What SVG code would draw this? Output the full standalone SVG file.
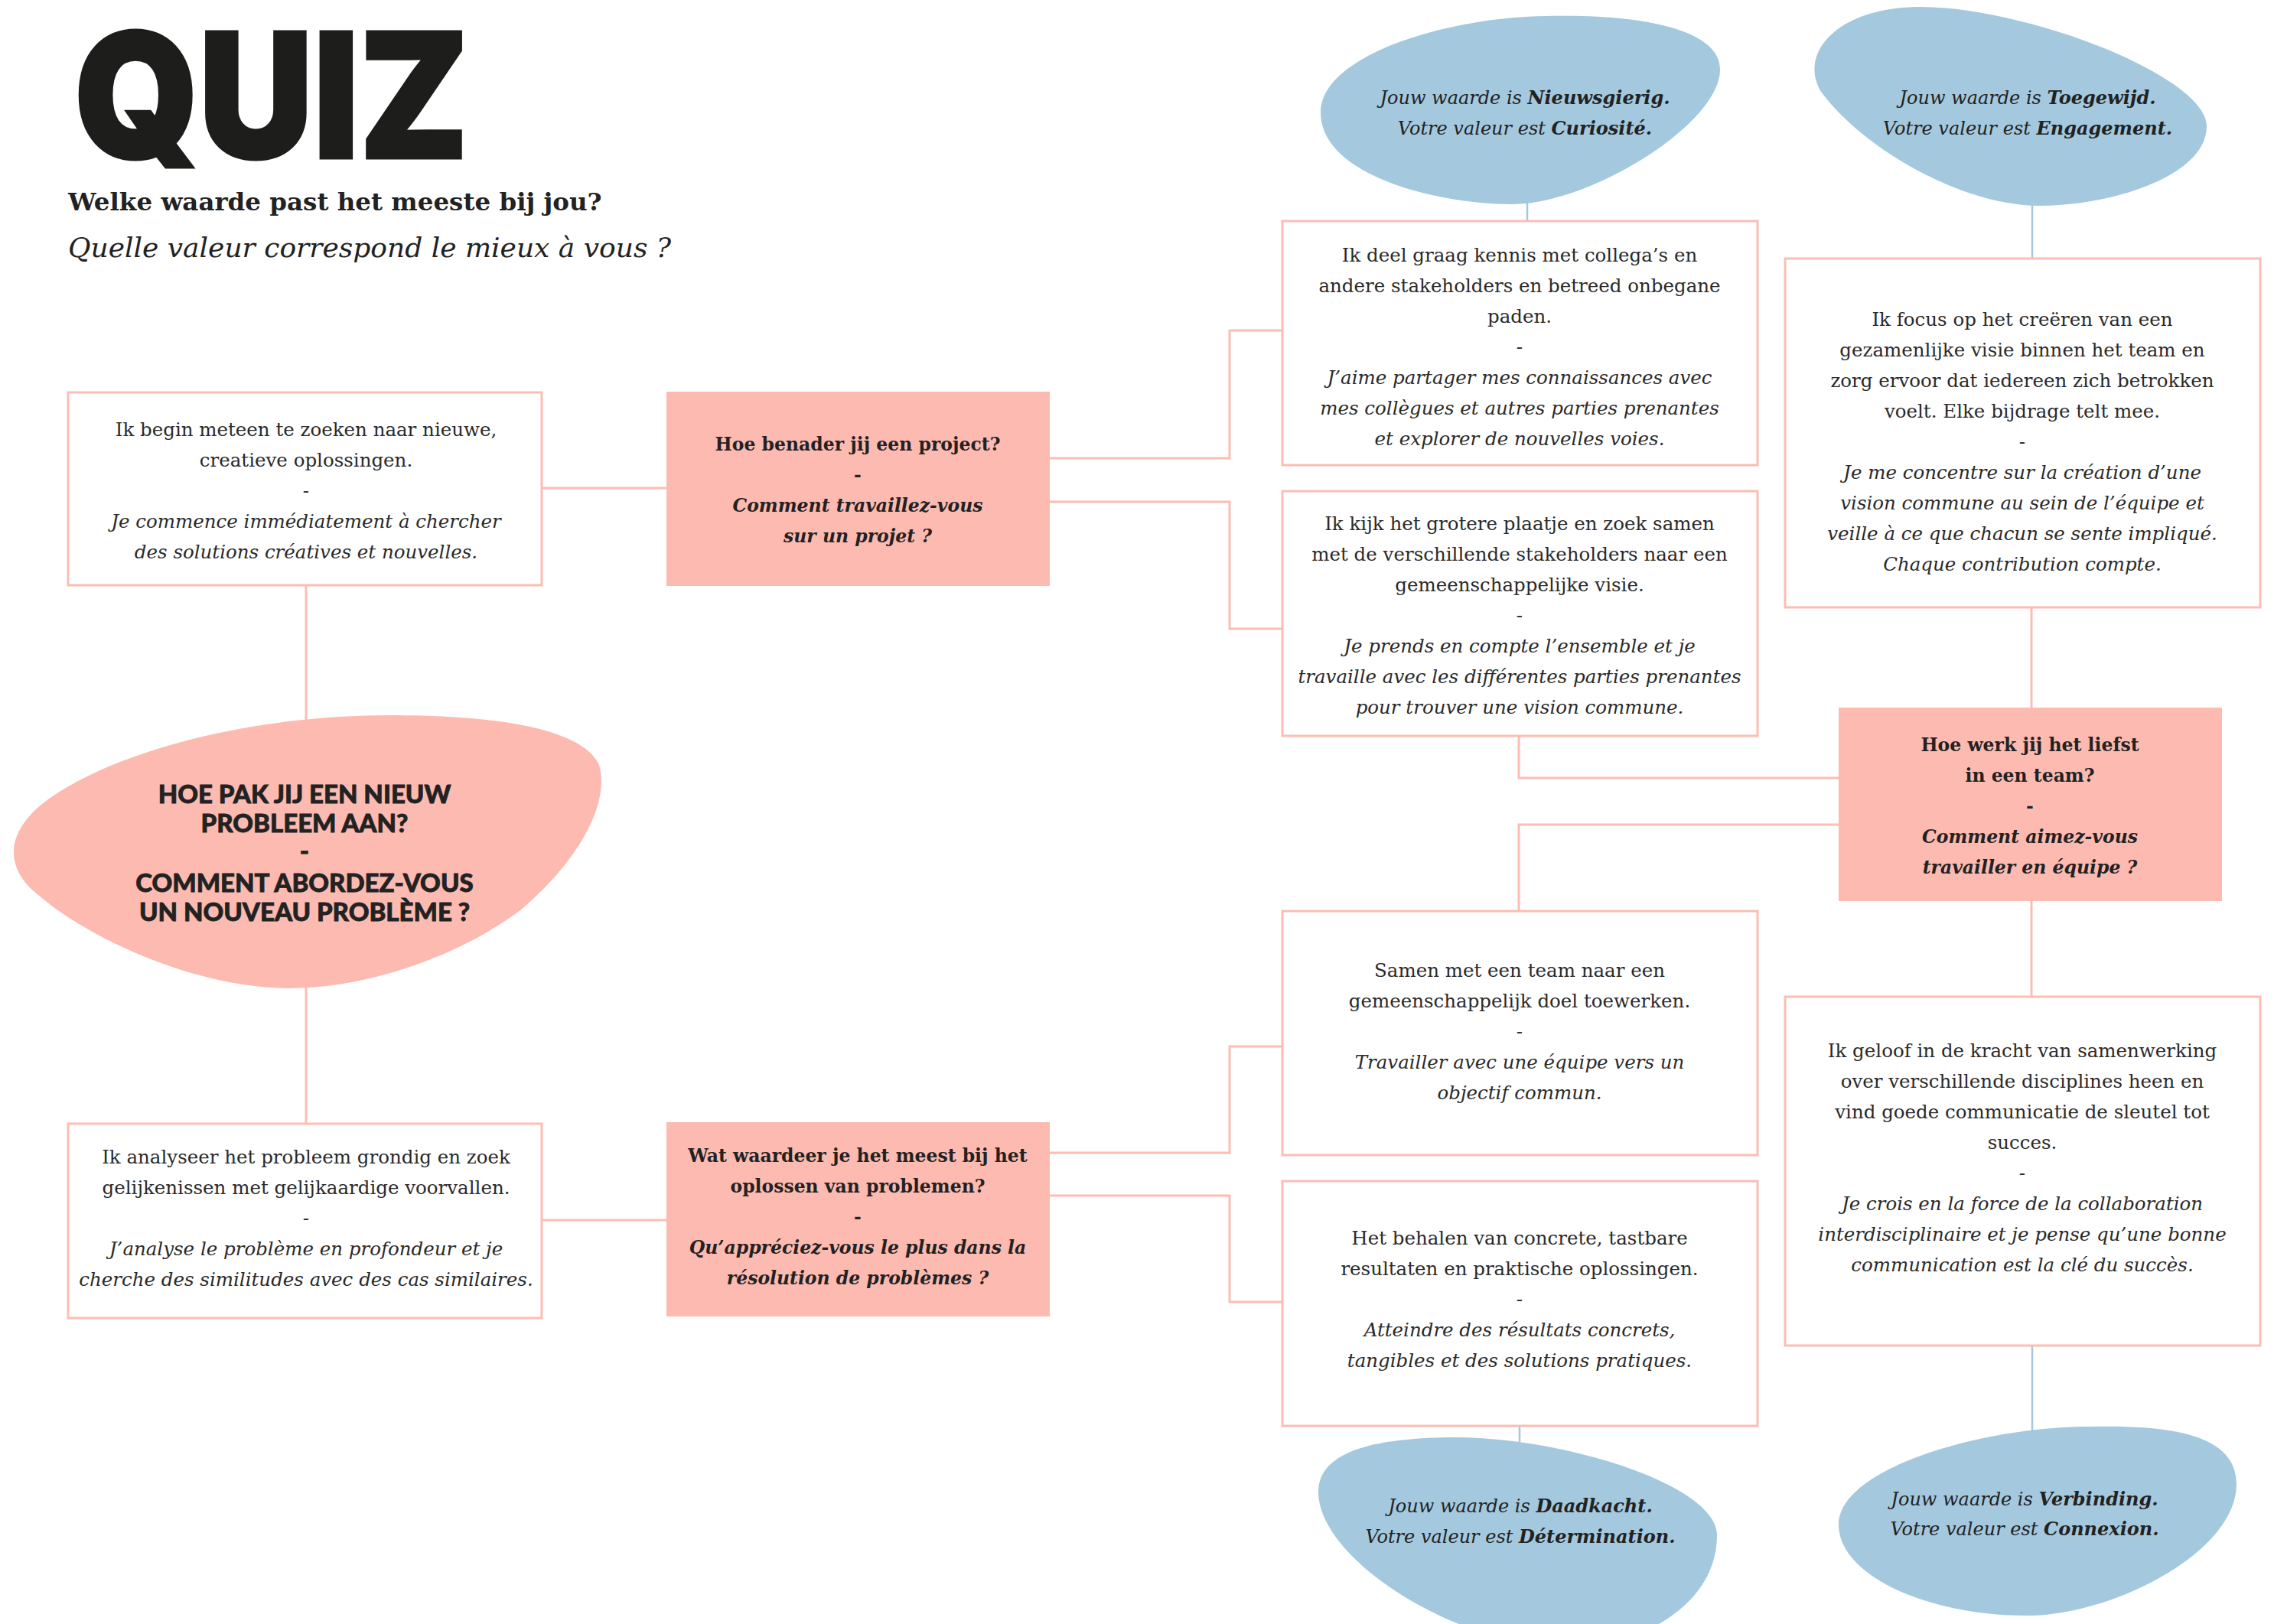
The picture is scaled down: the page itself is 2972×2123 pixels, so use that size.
<svg xmlns="http://www.w3.org/2000/svg" width="2972" height="2123" viewBox="0 0 2972 2123">
<style>
.bg{fill:#ffffff}
.box{fill:#ffffff;stroke:#FDBDB3;stroke-width:3}
.qbox{fill:#FDBAB1}
.pblob{fill:#FDBAB1}
.blob{fill:#A4C9DE}
.lp{fill:none;stroke:#FDBDB3;stroke-width:3}
.lb{fill:none;stroke:#A4C9DE;stroke-width:2.5}
text{fill:#222222;text-anchor:middle;font-family:"DejaVu Serif","Liberation Serif",serif}
.t{font-size:24.5px;fill:#2a2a2a}
.tq{font-size:23.5px;font-weight:bold}
.i{font-style:italic}
.bv{font-size:24px;font-style:italic}
.bv tspan.v{font-weight:bold}
.head{font-family:"Lato","Noto Sans","DejaVu Sans",sans-serif;font-weight:900;font-size:33px;stroke:#222222;stroke-width:0.8}
.title{font-family:"Inter","Lato","DejaVu Sans",sans-serif;font-weight:900;font-size:228px;text-anchor:start;fill:#1d1d1b;stroke:#1d1d1b;stroke-width:3}
.sub{text-anchor:start}
</style>
<rect class="bg" x="0" y="0" width="2972" height="2123"/>

<g id="connectors">
<path class="lp" d="M708,638 H871"/>
<path class="lp" d="M400,765 V945"/>
<path class="lp" d="M400,1285 V1469"/>
<path class="lp" d="M708,1595 H871"/>
<path class="lp" d="M1372,599 H1607 V432 H1676"/>
<path class="lp" d="M1372,656 H1607 V822 H1676"/>
<path class="lp" d="M1372,1507 H1607 V1368 H1676"/>
<path class="lp" d="M1372,1563 H1607 V1702 H1676"/>
<path class="lp" d="M2403,1017 H1985 V962"/>
<path class="lp" d="M2403,1078 H1985 V1191"/>
<path class="lp" d="M2655,794 V925"/>
<path class="lp" d="M2655,1178 V1303"/>
<path class="lb" d="M1996,260 V289"/>
<path class="lb" d="M2656,265 V338"/>
<path class="lb" d="M2656,1759 V1870"/>
<path class="lb" d="M1986,1864 V1885"/>
</g>

<g id="title">
<text class="title" x="97" y="207" textLength="516" lengthAdjust="spacingAndGlyphs">QUIZ</text>
<text class="sub" x="89" y="275" font-size="32.5" font-weight="bold">Welke waarde past het meeste bij jou?</text>
<text class="sub i" x="89" y="336" font-size="36">Quelle valeur correspond le mieux à vous ?</text>
</g>

<g id="start">
<path class="pblob" d="M510,935 C640,935 760,950 783,1000 C800,1060 740,1140 680,1190 C600,1250 480,1292 378,1292 C260,1292 120,1230 50,1170 C0,1130 10,1080 70,1040 C160,980 330,935 510,935 Z"/>
<text class="head" x="398" y="1050">HOE PAK JIJ EEN NIEUW</text>
<text class="head" x="398" y="1088">PROBLEEM AAN?</text>
<text class="head" x="398" y="1124">-</text>
<text class="head" x="398" y="1166">COMMENT ABORDEZ-VOUS</text>
<text class="head" x="398" y="1204">UN NOUVEAU PROBLÈME ?</text>
</g>

<g id="a1">
<rect class="box" x="89" y="513" width="619" height="252"/>
<text class="t" x="400" y="570">Ik begin meteen te zoeken naar nieuwe,</text>
<text class="t" x="400" y="610">creatieve oplossingen.</text>
<text class="t" x="400" y="650">-</text>
<text class="t i" x="400" y="690">Je commence immédiatement à chercher</text>
<text class="t i" x="400" y="730">des solutions créatives et nouvelles.</text>
</g>

<g id="a2">
<rect class="box" x="89" y="1469" width="619" height="254"/>
<text class="t" x="400" y="1521">Ik analyseer het probleem grondig en zoek</text>
<text class="t" x="400" y="1561">gelijkenissen met gelijkaardige voorvallen.</text>
<text class="t" x="400" y="1601">-</text>
<text class="t i" x="400" y="1641">J’analyse le problème en profondeur et je</text>
<text class="t i" x="400" y="1681">cherche des similitudes avec des cas similaires.</text>
</g>

<g id="q1">
<rect class="qbox" x="871" y="512" width="501" height="254"/>
<text class="tq" x="1121" y="589">Hoe benader jij een project?</text>
<text class="tq" x="1121" y="629">-</text>
<text class="tq i" x="1121" y="669">Comment travaillez-vous</text>
<text class="tq i" x="1121" y="709">sur un projet ?</text>
</g>

<g id="q2">
<rect class="qbox" x="871" y="1467" width="501" height="254"/>
<text class="tq" x="1121" y="1519">Wat waardeer je het meest bij het</text>
<text class="tq" x="1121" y="1559">oplossen van problemen?</text>
<text class="tq" x="1121" y="1599">-</text>
<text class="tq i" x="1121" y="1639">Qu’appréciez-vous le plus dans la</text>
<text class="tq i" x="1121" y="1679">résolution de problèmes ?</text>
</g>

<g id="q3">
<rect class="qbox" x="2403" y="925" width="501" height="253"/>
<text class="tq" x="2653" y="982">Hoe werk jij het liefst</text>
<text class="tq" x="2653" y="1022">in een team?</text>
<text class="tq" x="2653" y="1062">-</text>
<text class="tq i" x="2653" y="1102">Comment aimez-vous</text>
<text class="tq i" x="2653" y="1142">travailler en équipe ?</text>
</g>

<g id="b1">
<rect class="box" x="1676" y="289" width="621" height="319"/>
<text class="t" x="1986" y="342">Ik deel graag kennis met collega’s en</text>
<text class="t" x="1986" y="382">andere stakeholders en betreed onbegane</text>
<text class="t" x="1986" y="422">paden.</text>
<text class="t" x="1986" y="462">-</text>
<text class="t i" x="1986" y="502">J’aime partager mes connaissances avec</text>
<text class="t i" x="1986" y="542">mes collègues et autres parties prenantes</text>
<text class="t i" x="1986" y="582">et explorer de nouvelles voies.</text>
</g>

<g id="b2">
<rect class="box" x="1676" y="642" width="621" height="320"/>
<text class="t" x="1986" y="693">Ik kijk het grotere plaatje en zoek samen</text>
<text class="t" x="1986" y="733">met de verschillende stakeholders naar een</text>
<text class="t" x="1986" y="773">gemeenschappelijke visie.</text>
<text class="t" x="1986" y="813">-</text>
<text class="t i" x="1986" y="853">Je prends en compte l’ensemble et je</text>
<text class="t i" x="1986" y="893">travaille avec les différentes parties prenantes</text>
<text class="t i" x="1986" y="933">pour trouver une vision commune.</text>
</g>

<g id="d1">
<rect class="box" x="1676" y="1191" width="621" height="319"/>
<text class="t" x="1986" y="1277">Samen met een team naar een</text>
<text class="t" x="1986" y="1317">gemeenschappelijk doel toewerken.</text>
<text class="t" x="1986" y="1357">-</text>
<text class="t i" x="1986" y="1397">Travailler avec une équipe vers un</text>
<text class="t i" x="1986" y="1437">objectif commun.</text>
</g>

<g id="d2">
<rect class="box" x="1676" y="1544" width="621" height="320"/>
<text class="t" x="1986" y="1627">Het behalen van concrete, tastbare</text>
<text class="t" x="1986" y="1667">resultaten en praktische oplossingen.</text>
<text class="t" x="1986" y="1707">-</text>
<text class="t i" x="1986" y="1747">Atteindre des résultats concrets,</text>
<text class="t i" x="1986" y="1787">tangibles et des solutions pratiques.</text>
</g>

<g id="c1">
<rect class="box" x="2333" y="338" width="621" height="456"/>
<text class="t" x="2643" y="426">Ik focus op het creëren van een</text>
<text class="t" x="2643" y="466">gezamenlijke visie binnen het team en</text>
<text class="t" x="2643" y="506">zorg ervoor dat iedereen zich betrokken</text>
<text class="t" x="2643" y="546">voelt. Elke bijdrage telt mee.</text>
<text class="t" x="2643" y="586">-</text>
<text class="t i" x="2643" y="626">Je me concentre sur la création d’une</text>
<text class="t i" x="2643" y="666">vision commune au sein de l’équipe et</text>
<text class="t i" x="2643" y="706">veille à ce que chacun se sente impliqué.</text>
<text class="t i" x="2643" y="746">Chaque contribution compte.</text>
</g>

<g id="c2">
<rect class="box" x="2333" y="1303" width="621" height="456"/>
<text class="t" x="2643" y="1382">Ik geloof in de kracht van samenwerking</text>
<text class="t" x="2643" y="1422">over verschillende disciplines heen en</text>
<text class="t" x="2643" y="1462">vind goede communicatie de sleutel tot</text>
<text class="t" x="2643" y="1502">succes.</text>
<text class="t" x="2643" y="1542">-</text>
<text class="t i" x="2643" y="1582">Je crois en la force de la collaboration</text>
<text class="t i" x="2643" y="1622">interdisciplinaire et je pense qu’une bonne</text>
<text class="t i" x="2643" y="1662">communication est la clé du succès.</text>
</g>

<g id="v1">
<path class="blob" d="M2024,21 C2150,18 2248,40 2248,90 C2250,160 2080,267 1976,267 C1880,267 1726,230 1726,147 C1726,70 1900,21 2024,21 Z"/>
<text class="bv" x="1993" y="136">Jouw waarde is <tspan class="v">Nieuwsgierig.</tspan></text>
<text class="bv" x="1993" y="176">Votre valeur est <tspan class="v">Curiosité.</tspan></text>
</g>

<g id="v2">
<path class="blob" d="M2511,9 C2650,10 2884,100 2884,165 C2884,230 2760,269 2665,269 C2570,269 2440,200 2380,120 C2350,70 2400,9 2511,9 Z"/>
<text class="bv" x="2650" y="136">Jouw waarde is <tspan class="v">Toegewijd.</tspan></text>
<text class="bv" x="2650" y="176">Votre valeur est <tspan class="v">Engagement.</tspan></text>
</g>

<g id="v3">
<path class="blob" d="M1903,1879 C2040,1879 2244,1940 2244,2007 C2244,2080 2180,2130 2100,2150 C1950,2180 1723,2050 1723,1950 C1723,1900 1790,1879 1903,1879 Z"/>
<text class="bv" x="1987" y="1977">Jouw waarde is <tspan class="v">Daadkacht.</tspan></text>
<text class="bv" x="1987" y="2017">Votre valeur est <tspan class="v">Détermination.</tspan></text>
</g>

<g id="v4">
<path class="blob" d="M2730,1865 C2850,1862 2923,1880 2923,1940 C2923,2030 2760,2112 2649,2112 C2520,2112 2403,2060 2403,1993 C2403,1920 2590,1865 2730,1865 Z"/>
<text class="bv" x="2646" y="1968">Jouw waarde is <tspan class="v">Verbinding.</tspan></text>
<text class="bv" x="2646" y="2007">Votre valeur est <tspan class="v">Connexion.</tspan></text>
</g>
</svg>
